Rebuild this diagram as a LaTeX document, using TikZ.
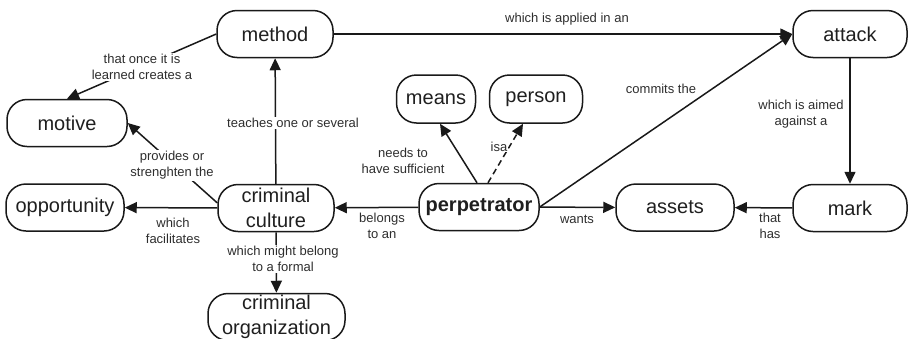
\documentclass[tikz,border=0pt]{standalone}
\usepackage{fontspec}
\setmainfont{Liberation Sans}
\usetikzlibrary{arrows.meta}

\tikzset{
  concept/.style={draw=black!90, line width=1.5pt, rounded corners=20pt,
    font=\fontsize{20}{25}\selectfont, text=black!88, align=center,
    minimum height=47pt, inner sep=1pt},
  lbl/.style={font=\fontsize{13}{16}\selectfont, text=black!82,
    align=center, inner sep=1.5pt},
  lblon/.style={lbl, fill=white},
  link/.style={line width=1.5pt, draw=black!90,
    -{Triangle[length=12pt,width=11pt]}},
  isalink/.style={link, dash pattern=on 6pt off 4pt}
}

\begin{document}
\begin{tikzpicture}[x=1pt, y=-1pt]
  \useasboundingbox (0,0) rectangle (908,338);

  % concepts
  \node[concept, minimum width=116pt] (method)      at (275,34)  {method};
  \node[concept, minimum width=114pt] (attack)      at (850,34)  {attack};
  \node[concept, minimum width=120pt] (motive)      at (67,123)  {motive};
  \node[concept, minimum width=79pt, minimum height=48pt] (means) at (436,99) {means};
  \node[concept, minimum width=93pt, minimum height=48pt] (person) at (536,99) {person};
  \node[concept, minimum width=118pt] (opportunity) at (65,207.5) {opportunity};
  \node[concept, minimum width=116pt] (culture)     at (276,208) {criminal\\culture};
  \node[concept, minimum width=120pt, font=\fontsize{20}{25}\selectfont\bfseries] (perpetrator) at (479,207) {perpetrator};
  \node[concept, minimum width=118pt] (assets)      at (675,207.5) {assets};
  \node[concept, minimum width=114pt] (mark)        at (850,208) {mark};
  \node[concept, minimum width=137pt] (organization) at (276.5,317) {criminal\\organization};

  % connectors
  \draw[link] (method) -- (attack);
  \draw[link] (method.west) -- (motive.north);
  \draw[link] (culture) -- (method);
  \draw[link] (culture.175) -- (motive.east);
  \draw[link] (culture) -- (opportunity);
  \draw[link] (culture) -- (organization);
  \draw[link] (perpetrator) -- (culture);
  \draw[link] ([xshift=-2pt]perpetrator.north) -- ([xshift=4pt]means.south);
  \draw[isalink] ([xshift=9pt]perpetrator.north) -- ([xshift=-13pt]person.south);
  \draw[link] (perpetrator.east) -- (attack.west);
  \draw[link] (perpetrator) -- (assets);
  \draw[link] (attack) -- (mark);
  \draw[link] (mark) -- (assets);

  % link phrases
  \node[lbl]   (lapplied)  at (567,19)    {which is applied in an};
  \node[lblon] (llearned)  at (142,67)    {that once it is\\learned creates a};
  \node[lblon] (lteaches)  at (293,123)   {teaches one or several};
  \node[lblon] (lprovides) at (172,165.5) {provides or\\strenghten the};
  \node[lbl]   (lfacil)    at (173,230.5) {which\\facilitates};
  \node[lblon] (lformal)   at (283,259)   {which might belong\\to a formal};
  \node[lbl]   (lbelongs)  at (382,226)   {belongs\\to an};
  \node[lbl]   (lneeds)    at (403,160.5) {needs to\\have sufficient};
  \node[lblon, inner sep=0.5pt] (lisa) at (499,147) {isa};
  \node[lbl]   (lcommits)  at (661,89)    {commits the};
  \node[lbl]   (laimed)    at (801,114.5) {which is aimed\\against a};
  \node[lbl]   (lwants)    at (577,219)   {wants};
  \node[lbl]   (lhas)      at (770,225.5) {that\\has};
\end{tikzpicture}
\end{document}
